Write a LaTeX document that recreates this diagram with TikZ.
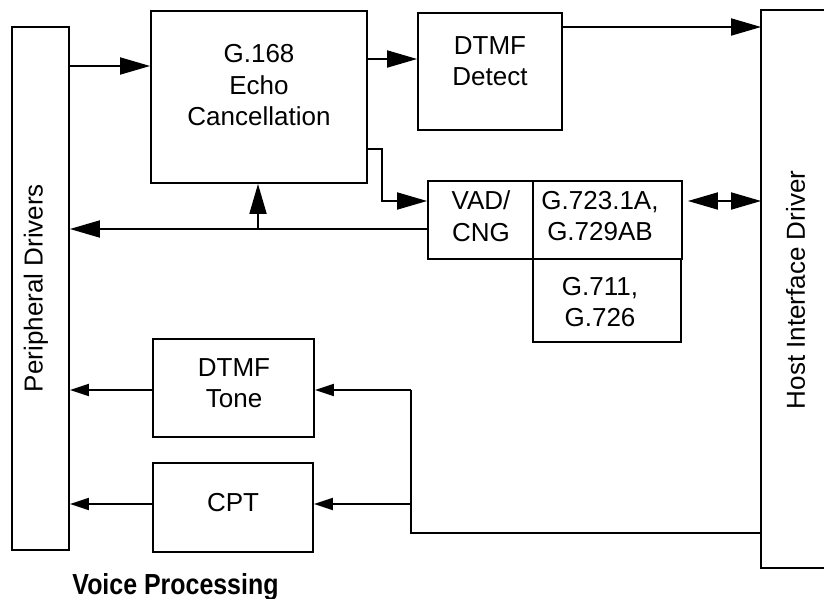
\documentclass[tikz,border=0pt]{standalone}
\usepackage{fontspec}
\setmainfont{Liberation Sans}
\usetikzlibrary{arrows.meta}
\begin{document}
\begin{tikzpicture}[x=1pt,y=-1pt,line width=1.8pt,
  box/.style={draw,line width=1.8pt,inner sep=0pt},
  lbl/.style={font=\fontsize{26}{31.5}\selectfont,align=center,inner sep=0pt},
  bigarrow/.style={-{Triangle[length=30pt,width=17pt]}},
  smallarrow/.style={-{Triangle[length=19pt,width=12pt]}},
  dblarrow/.style={{Triangle[length=30pt,width=17pt]}-{Triangle[length=30pt,width=17pt]}}]
\useasboundingbox (0,0) rectangle (824,599);
% boxes
\node[box,minimum width=57pt,minimum height=523pt] (periph) at (40.5,288.5) {};
\node[box,minimum width=216pt,minimum height=172pt] (echo) at (259,97) {};
\node[box,minimum width=144pt,minimum height=117pt] (detect) at (490,71.5) {};
\node[box,minimum width=105pt,minimum height=78pt] (vad) at (480.5,220) {};
\node[box,minimum width=149pt,minimum height=78pt] (g723) at (607.5,220) {};
\node[box,minimum width=148pt,minimum height=83pt] (g711) at (607,300.5) {};
\node[box,minimum width=161pt,minimum height=98pt] (tone) at (233.5,388) {};
\node[box,minimum width=160pt,minimum height=89pt] (cpt) at (233,507.5) {};
% host box runs off the right edge: only three sides are drawn
\node[inner sep=0pt,minimum width=62pt,minimum height=556pt] (host) at (793,289) {};
\draw[line width=1.8pt] (host.north east) -- (host.north west) -- (host.south west) -- (host.south east);
% texts
\node[lbl,rotate=90] (periphT) at (36,288) {Peripheral Drivers};
\node[lbl,rotate=90] (hostT) at (795.5,290) {Host Interface Driver};
\node[lbl] (echoT) at (259,85.5) {G.168\\Echo\\Cancellation};
\node[lbl] (detectT) at (490,61) {DTMF\\Detect};
\node[lbl] (vadT) at (481,216) {VAD/\\CNG};
\node[lbl] (g723T) at (600,216) {G.723.1A,\\G.729AB};
\node[lbl] (g711T) at (600,302) {G.711,\\G.726};
\node[lbl] (toneT) at (234,383) {DTMF\\Tone};
\node[lbl] (cptT) at (233,503) {CPT};
\node[font=\bfseries\fontsize{29}{32}\selectfont,inner sep=0pt,xscale=0.86] (vp) at (175.5,587) {Voice Processing};
% connectors
\draw[bigarrow] (periph.east |- 0,66) -- (echo.west |- 0,66);
\draw[bigarrow] (echo.east |- 0,59) -- (detect.west |- 0,59);
\draw[bigarrow] (detect.east |- 0,27) -- (host.west |- 0,27);
\draw[bigarrow] (echo.east |- 0,149) -- (382,149) -- (382,201) -- (vad.west |- 0,201);
\draw[bigarrow] (vad.west |- 0,229) -- (periph.east |- 0,229);
\coordinate (tap) at (258,229);
\draw[bigarrow] (tap) -- (echo.south -| tap);
\draw[dblarrow,shorten <=5pt] (g723.east |- 0,201) -- (host.west |- 0,201);
\coordinate (j1) at (411,390);
\coordinate (j2) at (411,504);
\draw (host.west |- 0,533) -| (j1);
\draw[smallarrow] (j1) -- (tone.east |- j1);
\draw[smallarrow] (j2) -- (cpt.east |- j2);
\draw[smallarrow] (tone.west |- 0,390) -- (periph.east |- 0,390);
\draw[smallarrow] (cpt.west |- 0,504) -- (periph.east |- 0,504);
\end{tikzpicture}
\end{document}
